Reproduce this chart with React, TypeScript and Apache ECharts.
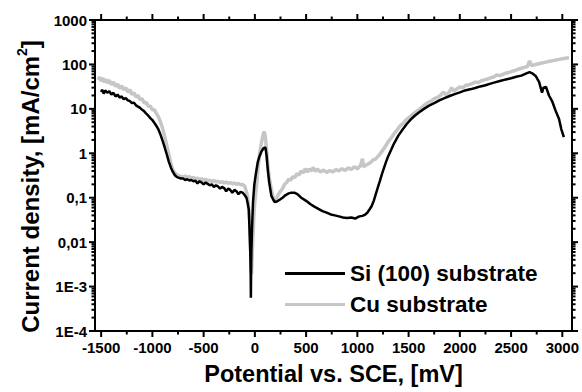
import React, { useEffect, useRef } from "react";
import * as echarts from "echarts";

const FONT = '"Liberation Sans", Arial, Helvetica, sans-serif';

const X_MIN = -1560;
const X_MAX = 3095;
const xTickValues = [-1500, -1000, -500, 0, 500, 1000, 1500, 2000, 2500, 3000];
const xMinorTickValues = [-1250, -750, -250, 250, 750, 1250, 1750, 2250, 2750];

const yTickValues = [1e-4, 1e-3, 1e-2, 1e-1, 1, 10, 100, 1000];
const yTickLabels = ["1E-4", "1E-3", "0,01", "0,1", "1", "10", "100", "1000"];
const yMinorMultipliers = [2, 3, 4, 5, 6, 7, 8, 9];

const seriesNames = ["Si (100) substrate", "Cu substrate"];

// Si (100) substrate: [potential mV, current density mA/cm2]
const siData: [number, number][] = [
  [-1500, 24], [-1490, 27], [-1475, 22], [-1460, 26], [-1440, 23], [-1420, 25], [-1400, 21],
  [-1380, 23], [-1360, 19], [-1340, 21], [-1320, 18], [-1300, 19], [-1280, 16.5], [-1260, 17.5],
  [-1240, 15.5], [-1220, 15], [-1200, 13.5], [-1180, 13.8], [-1160, 12], [-1140, 11.2],
  [-1120, 10.5], [-1100, 9.5], [-1080, 8.8], [-1060, 7.8], [-1040, 7], [-1020, 6.2], [-1000, 5.6],
  [-980, 4.8], [-960, 4.1], [-940, 3.4], [-920, 2.6], [-900, 1.9], [-880, 1.35], [-860, 0.95],
  [-840, 0.65], [-820, 0.48], [-800, 0.38], [-780, 0.32], [-760, 0.29], [-740, 0.28], [-720, 0.27],
  [-700, 0.27], [-680, 0.25], [-660, 0.26], [-640, 0.245], [-620, 0.25], [-600, 0.235], [-580, 0.24],
  [-560, 0.21], [-540, 0.235], [-520, 0.22], [-500, 0.2], [-480, 0.22], [-460, 0.205], [-440, 0.19],
  [-420, 0.2], [-400, 0.175], [-380, 0.19], [-360, 0.18], [-340, 0.16], [-320, 0.175], [-300, 0.165],
  [-280, 0.14], [-260, 0.16], [-240, 0.15], [-220, 0.13], [-200, 0.15], [-180, 0.14], [-160, 0.12],
  [-140, 0.135], [-120, 0.13], [-100, 0.115], [-82, 0.1], [-70, 0.075], [-59, 0.054], [-50, 0.013],
  [-45, 0.006], [-41, 0.0019], [-39, 0.00056], [-37, 0.0019], [-34, 0.006], [-28, 0.02], [-18, 0.08],
  [-5, 0.2], [10, 0.35], [28, 0.63], [45, 0.85], [64, 1.1], [85, 1.3], [103, 1.35], [114, 0.9],
  [126, 0.43], [140, 0.22], [161, 0.11], [180, 0.09], [194, 0.08], [215, 0.082], [242, 0.09],
  [270, 0.1], [300, 0.115], [330, 0.125], [356, 0.13], [385, 0.13], [415, 0.12], [453, 0.1],
  [500, 0.085], [540, 0.072], [580, 0.063], [620, 0.056], [660, 0.05], [700, 0.046], [740, 0.042],
  [780, 0.04], [820, 0.038], [860, 0.036], [900, 0.035], [940, 0.036], [980, 0.034], [1000, 0.036],
  [1020, 0.038], [1050, 0.039], [1080, 0.042], [1100, 0.047], [1120, 0.055], [1140, 0.065],
  [1160, 0.085], [1180, 0.12], [1200, 0.17], [1220, 0.24], [1240, 0.34], [1260, 0.47], [1280, 0.64],
  [1300, 0.85], [1330, 1.2], [1360, 1.7], [1400, 2.5], [1440, 3.4], [1480, 4.5], [1520, 5.7],
  [1560, 7], [1600, 8.3], [1650, 10], [1700, 11.8], [1750, 13.5], [1800, 15.5], [1850, 17.5],
  [1900, 19.5], [1950, 21.5], [2000, 23.5], [2050, 26], [2100, 27.5], [2150, 29.5], [2200, 32],
  [2250, 34], [2300, 37], [2350, 40], [2400, 43], [2450, 46], [2500, 49], [2550, 53], [2600, 56],
  [2650, 63], [2680, 67], [2706, 63], [2740, 55], [2774, 40], [2802, 23], [2815, 30], [2841, 31],
  [2870, 20], [2900, 15], [2935, 9], [2968, 5.9], [2990, 3.5], [3015, 2.3],
];

// Cu substrate
const cuData: [number, number][] = [
  [-1530, 45], [-1515, 52], [-1500, 42], [-1485, 50], [-1470, 40], [-1455, 47], [-1440, 38],
  [-1420, 44], [-1400, 35], [-1380, 40], [-1360, 32], [-1340, 36], [-1320, 29], [-1300, 33],
  [-1280, 27], [-1260, 30], [-1240, 24], [-1220, 27], [-1200, 21], [-1180, 23], [-1160, 18.5],
  [-1140, 20], [-1120, 16], [-1100, 17], [-1080, 13.5], [-1060, 14], [-1040, 11.5], [-1020, 11.5],
  [-1000, 9.5], [-980, 9.5], [-960, 7.8], [-940, 6.5], [-920, 5], [-900, 3.6], [-880, 2.4],
  [-860, 1.5], [-840, 0.95], [-820, 0.6], [-800, 0.42], [-780, 0.36], [-760, 0.33], [-740, 0.31],
  [-720, 0.3], [-700, 0.29], [-680, 0.31], [-660, 0.28], [-640, 0.3], [-620, 0.27], [-600, 0.29],
  [-580, 0.26], [-560, 0.28], [-540, 0.25], [-520, 0.27], [-500, 0.245], [-480, 0.26], [-460, 0.24],
  [-440, 0.25], [-420, 0.23], [-400, 0.245], [-380, 0.225], [-360, 0.235], [-340, 0.22], [-320, 0.23],
  [-300, 0.215], [-280, 0.225], [-260, 0.21], [-240, 0.22], [-220, 0.205], [-200, 0.215], [-180, 0.2],
  [-160, 0.21], [-140, 0.195], [-120, 0.2], [-98, 0.18], [-80, 0.13], [-69, 0.095], [-58, 0.045],
  [-50, 0.03], [-44, 0.01], [-38, 0.004], [-33, 0.0019], [-28, 0.004], [-20, 0.012], [-10, 0.04],
  [-1, 0.08], [16, 0.18], [32, 0.5], [48, 1.05], [62, 1.6], [76, 2.4], [90, 3.1], [102, 2.4],
  [113, 1.3], [125, 0.6], [140, 0.28], [161, 0.155], [178, 0.1], [194, 0.08], [215, 0.1],
  [230, 0.12], [250, 0.14], [270, 0.16], [290, 0.2], [310, 0.22], [330, 0.26], [350, 0.25],
  [370, 0.3], [390, 0.28], [410, 0.35], [430, 0.32], [450, 0.4], [470, 0.36], [490, 0.45],
  [510, 0.38], [530, 0.44], [550, 0.4], [570, 0.48], [590, 0.39], [610, 0.44], [640, 0.38],
  [670, 0.42], [700, 0.37], [730, 0.41], [760, 0.38], [790, 0.43], [820, 0.4], [850, 0.45],
  [880, 0.41], [910, 0.47], [940, 0.43], [970, 0.5], [1000, 0.45], [1030, 0.52], [1050, 0.75],
  [1060, 0.5], [1090, 0.55], [1120, 0.6], [1150, 0.7], [1180, 0.75], [1210, 0.9], [1240, 1.1],
  [1270, 1.4], [1300, 1.8], [1330, 2.2], [1360, 2.8], [1390, 3.4], [1420, 4.2], [1450, 4.8],
  [1480, 5.8], [1510, 6.5], [1540, 7.5], [1570, 8.5], [1600, 9.5], [1630, 11], [1660, 12.5],
  [1690, 14], [1720, 15], [1750, 17], [1780, 18], [1810, 20], [1840, 24], [1860, 21], [1890, 23],
  [1920, 30], [1940, 25], [1970, 28], [2000, 31], [2030, 30], [2060, 34], [2090, 35], [2120, 37],
  [2150, 40], [2180, 39], [2210, 43], [2240, 45], [2270, 47], [2300, 50], [2330, 52], [2360, 58],
  [2390, 56], [2420, 60], [2450, 64], [2480, 66], [2510, 70], [2540, 73], [2570, 78], [2600, 82],
  [2630, 86], [2660, 90], [2680, 120], [2700, 95], [2730, 98], [2760, 102], [2790, 106],
  [2820, 110], [2850, 114], [2880, 118], [2910, 122], [2940, 126], [2970, 130], [3000, 134],
  [3030, 138], [3065, 142],
];

export default function App() {
  const ref = useRef<HTMLDivElement>(null);

  useEffect(() => {
    if (!ref.current) return;
    const chart = echarts.init(ref.current, null, { renderer: "svg" });

    const yMinorTickValues: number[] = [];
    yTickValues.slice(0, -1).forEach((d) => {
      yMinorMultipliers.forEach((m) => yMinorTickValues.push(d * m));
    });

    const black = "#000";
    const lineStyle = { color: black, width: 2 };
    const W = 2;

    // Outward tick marks on all four sides, drawn by custom series placed with api.coord.
    const tickSeries = (vals: number[], dir: "x" | "y", len: number) => ({
      type: "custom",
      clip: false,
      z: 10,
      xAxisIndex: 0,
      yAxisIndex: 0,
      tooltip: { show: false },
      data: vals.map((v) => (dir === "x" ? [v, 1] : [0, v])),
      renderItem: (params: any, api: any) => {
        const cs = params.coordSys;
        const p = api.coord([api.value(0), api.value(1)]);
        const st = { fill: black };
        if (dir === "x") {
          return {
            type: "group",
            children: [
              { type: "rect", shape: { x: p[0] - W / 2, y: cs.y + cs.height, width: W, height: len }, style: st },
              { type: "rect", shape: { x: p[0] - W / 2, y: cs.y - len, width: W, height: len }, style: st },
            ],
          };
        }
        return {
          type: "group",
          children: [
            { type: "rect", shape: { x: cs.x - len, y: p[1] - W / 2, width: len, height: W }, style: st },
            { type: "rect", shape: { x: cs.x + cs.width, y: p[1] - W / 2, width: len, height: W }, style: st },
          ],
        };
      },
    });

    const xBase = {
      type: "value" as const,
      min: X_MIN,
      max: X_MAX,
      splitLine: { show: false },
      axisTick: { show: false },
      axisLabel: { show: false },
    };
    const yBase = {
      type: "log" as const,
      logBase: 10,
      min: 1e-4,
      max: 1000,
      splitLine: { show: false },
      axisTick: { show: false },
      axisLabel: { show: false },
    };
    const shownLine = { show: true, onZero: false, lineStyle };

    chart.setOption({
      animation: false,
      backgroundColor: "#fff",
      grid: { left: 95, right: 9, top: 20, bottom: 61, containLabel: false },
      legend: {
        data: seriesNames.map((n) => ({ name: n, icon: "rect" })),
        orient: "vertical",
        left: 280,
        top: 257,
        itemWidth: 60,
        itemHeight: 3,
        itemGap: 8,
        textStyle: {
          fontFamily: FONT,
          fontSize: 22.5,
          fontWeight: "bold",
          color: black,
          lineHeight: 22,
        },
      },
      xAxis: [
        {
          ...xBase,
          position: "bottom",
          axisLine: shownLine,
          axisLabel: {
            show: true,
            customValues: xTickValues,
            fontFamily: FONT,
            fontSize: 15,
            fontWeight: "bold",
            color: black,
            margin: 9,
            formatter: (v: number) => String(v),
          },
          name: "Potential vs. SCE, [mV]",
          nameLocation: "middle",
          nameGap: 31,
          nameTextStyle: { fontFamily: FONT, fontSize: 23.5, fontWeight: "bold", color: black },
        },
        {
          ...xBase,
          position: "top",
          axisLine: shownLine,
        },
      ],
      yAxis: [
        {
          ...yBase,
          position: "left",
          axisLine: shownLine,
          axisLabel: {
            show: true,
            customValues: yTickValues,
            fontFamily: FONT,
            fontSize: 15,
            fontWeight: "bold",
            color: black,
            margin: 8,
            formatter: (v: number) => {
              const idx = yTickValues.findIndex((t) => Math.abs(Math.log10(t) - Math.log10(v)) < 1e-6);
              return idx >= 0 ? yTickLabels[idx] : "";
            },
          },
          name: "{a|Current density, [mA/cm}{s|2}{a|]}",
          nameLocation: "middle",
          nameGap: 52,
          nameRotate: 90,
          nameTextStyle: {
            padding: [0, 22, 0, 0],
            rich: {
              a: {
                fontFamily: FONT,
                fontSize: 24,
                fontWeight: "bold",
                color: black,
                lineHeight: 28,
                verticalAlign: "bottom",
              },
              s: {
                fontFamily: FONT,
                fontSize: 14,
                fontWeight: "bold",
                color: black,
                lineHeight: 16,
                verticalAlign: "top",
              },
            },
          },
        },
        {
          ...yBase,
          position: "right",
          axisLine: shownLine,
        },
      ],
      series: [
        {
          name: seriesNames[1],
          type: "line",
          xAxisIndex: 0,
          yAxisIndex: 0,
          data: cuData,
          symbol: "none",
          showSymbol: false,
          lineStyle: { color: "#c6c6c6", width: 3.5 },
          itemStyle: { color: "#c6c6c6" },
          z: 2,
        },
        {
          name: seriesNames[0],
          type: "line",
          xAxisIndex: 0,
          yAxisIndex: 0,
          data: siData,
          symbol: "none",
          showSymbol: false,
          lineStyle: { color: black, width: 2.5 },
          itemStyle: { color: black },
          z: 3,
        },
        tickSeries(xTickValues, "x", 6),
        tickSeries(xMinorTickValues, "x", 3.5),
        tickSeries(yTickValues, "y", 6),
        tickSeries(yMinorTickValues, "y", 3.5),
      ],
    });

    return () => chart.dispose();
  }, []);

  return (
    <div
      ref={ref}
      style={{ position: "fixed", left: 0, top: 0, width: 582, height: 392, background: "#fff" }}
    />
  );
}
